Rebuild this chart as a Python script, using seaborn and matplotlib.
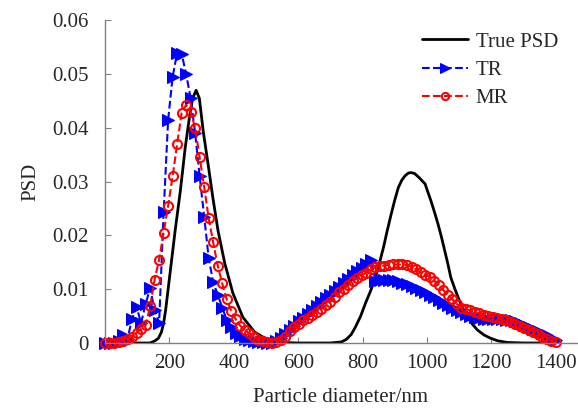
import matplotlib
matplotlib.use("Agg")
import matplotlib.pyplot as plt
import seaborn as sns
from matplotlib.ticker import FuncFormatter

# particle diameter grid (nm) for the inversion results
diameter = [0, 14, 28, 42, 56, 70, 84, 98, 112, 126, 140, 154, 168, 182, 196, 210,
            224, 238, 252, 266, 280, 294, 308, 322, 336, 350, 364, 378, 392, 406,
            420, 434, 448, 462, 476, 490, 504, 518, 532, 546, 560, 574, 588, 602,
            616, 630, 644, 658, 672, 686, 700, 714, 728, 742, 756, 770, 784, 798,
            812, 826, 840, 854, 868, 882, 896, 910, 924, 938, 952, 966, 980, 994,
            1008, 1022, 1036, 1050, 1064, 1078, 1092, 1106, 1120, 1134, 1148, 1162,
            1176, 1190, 1204, 1218, 1232, 1246, 1260, 1274, 1288, 1302, 1316, 1330,
            1344, 1358, 1372, 1386, 1400]

psd_tr = [0, 0, 0, 0.0003, 0.0015, 0.0008, 0.0045, 0.0067, 0.0037, 0.0072, 0.0102,
          0.0062, 0.0037, 0.0243, 0.0415, 0.0495, 0.0540, 0.0538, 0.0500, 0.0455,
          0.0390, 0.0310, 0.0235, 0.0158, 0.0113, 0.0090, 0.0066, 0.0043, 0.0029,
          0.0019, 0.0013, 0.0008, 0.0005, 0.0003, 0.0002, 0.0001, 0, 0, 0.0003,
          0.0009, 0.0017, 0.0025, 0.0032, 0.0040, 0.0047, 0.0054, 0.0061, 0.0068,
          0.0076, 0.0083, 0.0090, 0.0097, 0.0104, 0.0111, 0.0119, 0.0126, 0.0133,
          0.0140, 0.0147, 0.0155, 0.0115, 0.0117, 0.0118, 0.0118, 0.0117, 0.0115,
          0.0112, 0.0109, 0.0106, 0.0102, 0.0098, 0.0094, 0.0090, 0.0085, 0.0080,
          0.0075, 0.0070, 0.0065, 0.0061, 0.0057, 0.0053, 0.0050, 0.0048, 0.0046,
          0.0045, 0.0044, 0.0044, 0.0044, 0.0044, 0.0043, 0.0042, 0.0040, 0.0037,
          0.0034, 0.0030, 0.0026, 0.0022, 0.0018, 0.0014, 0.0010, 0.0006]

psd_mr = [0, 0, 0, 0.0002, 0.0004, 0.0007, 0.0012, 0.0019, 0.0026, 0.0033, 0.0068,
          0.0118, 0.0155, 0.0205, 0.0255, 0.0310, 0.0370, 0.0428, 0.0443, 0.0430,
          0.0400, 0.0345, 0.0290, 0.0232, 0.0187, 0.0144, 0.0111, 0.0081, 0.0060,
          0.0044, 0.0032, 0.0024, 0.0018, 0.0012, 0.0006, 0.0003, 0.0001, 0, 0.0001,
          0.0005, 0.0012, 0.0022, 0.0030, 0.0036, 0.0042, 0.0047, 0.0052, 0.0058,
          0.0064, 0.0070, 0.0077, 0.0085, 0.0094, 0.0101, 0.0108, 0.0115, 0.0121,
          0.0126, 0.0131, 0.0137, 0.0141, 0.0143, 0.0144, 0.0145, 0.0146, 0.0146,
          0.0146, 0.0145, 0.0142, 0.0137, 0.0132, 0.0127, 0.0123, 0.0116, 0.0108,
          0.0099, 0.0090, 0.0082, 0.0073, 0.0066, 0.0063, 0.0061, 0.0058, 0.0055,
          0.0052, 0.0050, 0.0048, 0.0046, 0.0044, 0.0042, 0.0039, 0.0036, 0.0032,
          0.0028, 0.0025, 0.0021, 0.0017, 0.0012, 0.0008, 0.0004, 0.0001]

# true distribution
diameter_true = [0, 100, 140, 155, 166, 175, 182, 188, 193, 203, 218, 234, 249, 262,
                 272, 283, 293, 305, 320, 335, 351, 372, 397, 428, 465, 505, 540, 600,
                 700, 735, 750, 765, 778, 794, 809, 825, 840, 853, 865, 877, 889, 900,
                 911, 922, 932, 942, 951, 962, 975, 994, 1012, 1023, 1034, 1045, 1055,
                 1065, 1074, 1087, 1100, 1113, 1126, 1141, 1157, 1177, 1197, 1220,
                 1249, 1300, 1400]
psd_true = [0, 0, 0, 0.0004, 0.0009, 0.0020, 0.0037, 0.0060, 0.0085, 0.0135, 0.0210,
            0.0283, 0.0363, 0.0419, 0.0455, 0.0470, 0.0455, 0.0394, 0.0333, 0.0270,
            0.0209, 0.0148, 0.0093, 0.0048, 0.0020, 0.0006, 0.0001, 0, 0, 0.0002,
            0.0007, 0.0016, 0.0030, 0.0050, 0.0074, 0.0097, 0.0122, 0.0150, 0.0178,
            0.0210, 0.0240, 0.0266, 0.0289, 0.0303, 0.0311, 0.0316, 0.0317, 0.0315,
            0.0308, 0.0296, 0.0265, 0.0244, 0.0222, 0.0197, 0.0172, 0.0147, 0.0122,
            0.0100, 0.0080, 0.0063, 0.0048, 0.0035, 0.0024, 0.0015, 0.0009, 0.0004,
            0.0001, 0, 0]

sns.set_style("ticks")
plt.rcParams['font.family'] = ['Liberation Serif', 'DejaVu Serif']
plt.rcParams['font.size'] = 15

fig = plt.figure(figsize=(5.78, 4.12), dpi=100)
ax = fig.add_axes([0.1817, 0.1675, 0.816, 0.783])

sns.lineplot(x=diameter_true, y=psd_true, color="black", linewidth=2, label="True PSD", ax=ax)
sns.lineplot(x=diameter, y=psd_tr, color="blue", linestyle="--", linewidth=1.5,
             marker=">", markersize=8.5, markeredgecolor="blue", label="TR", ax=ax,
             clip_on=False)
sns.lineplot(x=diameter, y=psd_mr, color="red", linestyle="--", linewidth=1.5,
             marker="o", markersize=6.5, markerfacecolor="none", markeredgecolor="red",
             markeredgewidth=1.5, label="MR", ax=ax, clip_on=False)

ax.set_xlim(0, 1465)
ax.set_ylim(0, 0.06)
ax.set_xticks([200, 400, 600, 800, 1000, 1200, 1400])
ax.set_yticks([0, 0.01, 0.02, 0.03, 0.04, 0.05, 0.06])
ax.yaxis.set_major_formatter(FuncFormatter(lambda v, p: "{:g}".format(round(v, 2))))
ax.tick_params(direction="in", length=4, color="gray", labelsize=15)
ax.tick_params(axis="y", pad=12)
ax.tick_params(axis="x", pad=8)
for side in ["top", "right"]:
    ax.spines[side].set_visible(False)
for side in ["left", "bottom"]:
    ax.spines[side].set_color("gray")
    ax.spines[side].set_linewidth(1)

ax.set_xlabel("Particle diameter/nm", fontsize=15, labelpad=11)
ax.set_ylabel("PSD", fontsize=15, labelpad=8)

ax.legend(loc="upper right", bbox_to_anchor=(1.0, 1.022), frameon=False, fontsize=15,
          handlelength=2.2, labelspacing=0.42, handletextpad=0.35, markerscale=0.8)

fig.savefig("out.png", dpi=100)
